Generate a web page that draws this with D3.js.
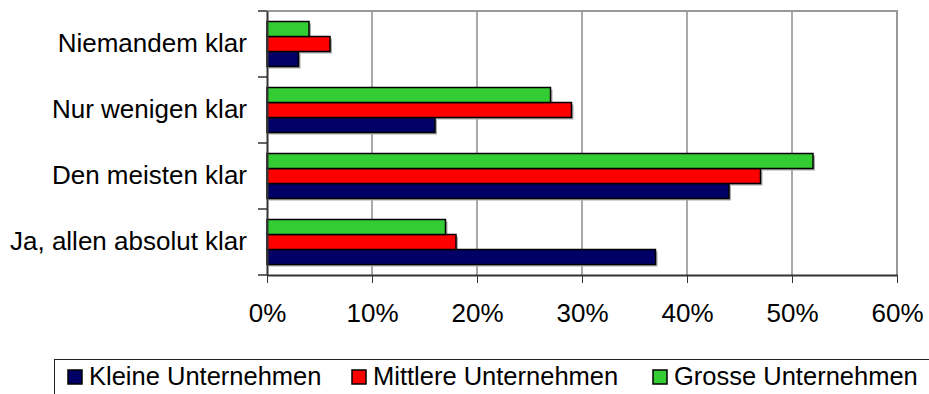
<!DOCTYPE html>
<html>
    <head>
        <title>Klarheit nach Unternehmensgroesse</title>
        <script src="https://cdn.jsdelivr.net/npm/d3@7"></script>

        <style type="text/css">
        body {
          margin: 0;
          background: white;
        }

        svg text {
          font-family: "Liberation Sans", Arial, sans-serif;
          font-size: 26px;
          fill: black;
        }

        svg .legend text {
          font-size: 25.5px;
        }

        svg .grid line {
          stroke: #555;
          stroke-width: 1px;
        }

        svg .bar {
          stroke: black;
          stroke-width: 1.5px;
        }

        svg .shadow {
          fill: #aaa;
        }
        </style>

        <script type="text/javascript">

            var categories = ["Niemandem klar", "Nur wenigen klar", "Den meisten klar", "Ja, allen absolut klar"];
            var seriesNames = ["Kleine Unternehmen", "Mittlere Unternehmen", "Grosse Unternehmen"];
            var seriesColors = ["#000066", "#ff0000", "#33cc33"];
            var kleine = [3, 16, 44, 37];
            var mittlere = [6, 29, 47, 18];
            var grosse = [4, 27, 52, 17];
            var xTicks = [0, 10, 20, 30, 40, 50, 60];

            function createBarChart() {

              var seriesValues = [kleine, mittlere, grosse];
              var left = 267, right = 897, top = 11, bottom = 275;

              var svg = d3.select("body")
                          .append("svg")
                          .attr("width", 929)
                          .attr("height", 394);

              var x = d3.scaleLinear().domain([0, 60]).range([left, right]);
              var y0 = d3.scaleBand().domain(categories).range([top, bottom]);
              // Kleine at the bottom of each group, Grosse on top
              var y1 = d3.scaleBand()
                         .domain(seriesNames.slice().reverse())
                         .range([0, 45]);
              var groupOffset = (y0.bandwidth() - 45) / 2;

              // vertical grid lines
              svg.append("g")
                  .attr("class", "grid")
                  .selectAll("line")
                  .data(xTicks.slice(1, -1))
                  .enter()
                  .append("line")
                  .attr("x1", function(d) { return x(d); })
                  .attr("x2", function(d) { return x(d); })
                  .attr("y1", top)
                  .attr("y2", bottom);

              // top and right frame in grey
              svg.append("path")
                  .attr("d", "M" + left + "," + top + "H" + right + "V" + bottom)
                  .attr("fill", "none")
                  .attr("stroke", "#999")
                  .attr("stroke-width", 2);

              // bars
              var rows = [];
              seriesNames.forEach(function(s, si) {
                categories.forEach(function(c, ci) {
                  rows.push({cat: c, series: s, color: seriesColors[si], value: seriesValues[si][ci]});
                });
              });

              svg.selectAll("rect.shadow")
                  .data(rows)
                  .enter()
                  .append("rect")
                  .attr("class", "shadow")
                  .attr("x", x(0) + 2)
                  .attr("y", function(d) { return y0(d.cat) + groupOffset + y1(d.series) + 2; })
                  .attr("width", function(d) { return x(d.value) - x(0); })
                  .attr("height", y1.bandwidth());

              svg.selectAll("rect.bar")
                  .data(rows)
                  .enter()
                  .append("rect")
                  .attr("class", "bar")
                  .attr("x", x(0))
                  .attr("y", function(d) { return y0(d.cat) + groupOffset + y1(d.series); })
                  .attr("width", function(d) { return x(d.value) - x(0); })
                  .attr("height", y1.bandwidth())
                  .attr("fill", function(d) { return d.color; });

              // axes
              var xAxis = svg.append("g")
                  .attr("transform", "translate(0," + bottom + ")")
                  .call(d3.axisBottom(x)
                          .tickValues(xTicks)
                          .tickSize(8)
                          .tickSizeOuter(0)
                          .tickFormat(function(d) { return d + "%"; }));
              xAxis.select(".domain").attr("stroke", "#333").attr("stroke-width", 2);
              xAxis.selectAll(".tick line").attr("stroke", "#333");
              xAxis.selectAll("text")
                  .attr("font-family", null)
                  .attr("font-size", null)
                  .attr("fill", null)
                  .attr("y", 47)
                  .attr("dy", null);

              var yAxis = svg.append("g")
                  .attr("transform", "translate(" + left + ",0)")
                  .call(d3.axisLeft(y0).tickSize(0).tickSizeOuter(0).tickPadding(20));
              yAxis.select(".domain").attr("stroke", "#333").attr("stroke-width", 2);
              yAxis.selectAll("text")
                  .attr("font-family", null)
                  .attr("font-size", null)
                  .attr("fill", null);

              // category boundary ticks
              var bounds = categories.map(function(c) { return y0(c); }).concat([bottom]);
              svg.selectAll("line.ytick")
                  .data(bounds)
                  .enter()
                  .append("line")
                  .attr("class", "ytick")
                  .attr("x1", left - 9)
                  .attr("x2", left)
                  .attr("y1", function(d) { return d; })
                  .attr("y2", function(d) { return d; })
                  .attr("stroke", "#333")
                  .attr("stroke-width", 1.5);

              // legend
              var legendX = [68, 352, 653];
              svg.append("rect")
                  .attr("x", 54.5)
                  .attr("y", 359.5)
                  .attr("width", 900)
                  .attr("height", 60)
                  .attr("fill", "white")
                  .attr("stroke", "#222")
                  .attr("stroke-width", 1);

              var items = svg.selectAll("g.legend")
                  .data(seriesNames)
                  .enter()
                  .append("g")
                  .attr("class", "legend")
                  .attr("transform", function(d, i) { return "translate(" + legendX[i] + ",370)"; });

              items.append("rect")
                  .attr("width", 14)
                  .attr("height", 14)
                  .attr("fill", function(d, i) { return seriesColors[i]; })
                  .attr("stroke", "black")
                  .attr("stroke-width", 1.5);

              items.append("text")
                  .attr("x", 21)
                  .attr("y", 15)
                  .text(function(d) { return d; });
            }

            window.onload = createBarChart;

        </script>
    </head>

    <body>

    </body>
</html>
